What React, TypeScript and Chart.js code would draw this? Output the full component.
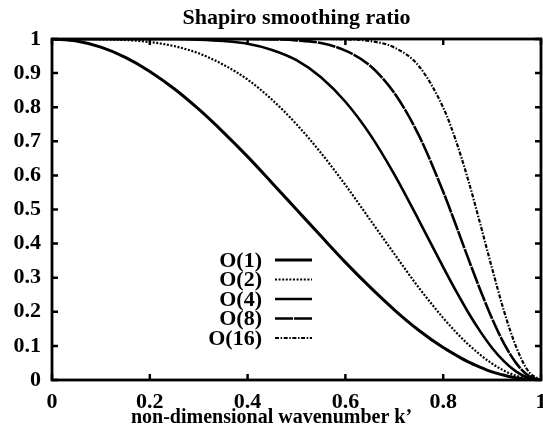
import { useEffect, useRef } from 'react';
import { Chart, registerables } from 'chart.js';

Chart.register(...registerables);

// Non-dimensional wavenumber k'
const wavenumber = [
  0, 0.05, 0.1, 0.15, 0.2, 0.25, 0.3, 0.35, 0.4, 0.45, 0.5, 0.55, 0.6, 0.65, 0.7, 0.75, 0.8,
  0.825, 0.85, 0.875, 0.9, 0.925, 0.95, 0.975, 1,
];

// Smoothing ratio for each filter order
const order1 = [
  1, 0.994, 0.976, 0.946, 0.905, 0.854, 0.794, 0.727, 0.655, 0.578, 0.5, 0.422, 0.345, 0.273,
  0.206, 0.146, 0.095, 0.074, 0.054, 0.038, 0.024, 0.014, 0.006, 0.002, 0,
];
const order2 = [
  1, 1, 0.999, 0.997, 0.991, 0.979, 0.958, 0.925, 0.881, 0.822, 0.75, 0.666, 0.572, 0.471,
  0.37, 0.271, 0.182, 0.142, 0.106, 0.075, 0.048, 0.027, 0.012, 0.003, 0,
];
const order4 = [
  1, 1, 1, 1, 1, 1, 0.998, 0.994, 0.986, 0.968, 0.938, 0.888, 0.816, 0.721, 0.603, 0.469,
  0.331, 0.264, 0.201, 0.144, 0.094, 0.054, 0.024, 0.006, 0,
];
const order8 = [
  1, 1, 1, 1, 1, 1, 1, 1, 1, 0.999, 0.996, 0.988, 0.966, 0.922, 0.842, 0.718, 0.552, 0.458,
  0.361, 0.267, 0.18, 0.105, 0.048, 0.012, 0,
];
const order16 = [
  1, 1, 1, 1, 1, 1, 1, 1, 1, 1, 1, 1, 0.999, 0.994, 0.975, 0.921, 0.799, 0.706, 0.592, 0.462,
  0.327, 0.199, 0.094, 0.024, 0,
];

const seriesLabels = ['O(1)', 'O(2)', 'O(4)', 'O(8)', 'O(16)'];
const xTickLabels = ['0', '0.2', '0.4', '0.6', '0.8', '1'];
const yTickLabels = ['0', '0.1', '0.2', '0.3', '0.4', '0.5', '0.6', '0.7', '0.8', '0.9', '1'];
const xCaption = 'non-dimensional wavenumber k’';

const SERIF = '"Liberation Serif", "Times New Roman", serif';

const lineStyles = [
  { width: 3, dash: [] as number[] },
  { width: 2.2, dash: [2, 1.6] },
  { width: 2.6, dash: [] as number[] },
  { width: 2.6, dash: [18, 1] },
  { width: 2.2, dash: [4, 1.6, 1.5, 1.6] },
];

// Frame around the plot area with inward tick marks on all four sides
const framePlugin = {
  id: 'frame',
  afterDatasetsDraw(chart: any) {
    const { ctx, chartArea: a, scales } = chart;
    ctx.save();
    ctx.strokeStyle = '#000';
    ctx.lineWidth = 2.8;
    ctx.setLineDash([]);
    ctx.strokeRect(a.left, a.top, a.right - a.left, a.bottom - a.top);
    ctx.lineWidth = 2.5;
    const tl = 6;
    scales.x.ticks.forEach((t: any) => {
      const px = scales.x.getPixelForValue(t.value);
      ctx.beginPath();
      ctx.moveTo(px, a.bottom);
      ctx.lineTo(px, a.bottom - tl);
      ctx.moveTo(px, a.top);
      ctx.lineTo(px, a.top + tl);
      ctx.stroke();
    });
    scales.y.ticks.forEach((t: any) => {
      const py = scales.y.getPixelForValue(t.value);
      ctx.beginPath();
      ctx.moveTo(a.left, py);
      ctx.lineTo(a.left + tl, py);
      ctx.moveTo(a.right, py);
      ctx.lineTo(a.right - tl, py);
      ctx.stroke();
    });
    ctx.restore();
  },
};

// x-axis caption, centred on the full canvas width below the tick labels
const captionPlugin = {
  id: 'caption',
  afterDraw(chart: any) {
    const { ctx } = chart;
    ctx.save();
    ctx.font = `bold 20px ${SERIF}`;
    ctx.fillStyle = '#000';
    ctx.textAlign = 'center';
    ctx.textBaseline = 'alphabetic';
    ctx.fillText(xCaption, chart.width / 2, 423);
    ctx.restore();
  },
};

// Key drawn inside the plot: right-aligned labels with line samples to their right
const keyPlugin = {
  id: 'key',
  afterDatasetsDraw(chart: any) {
    const { ctx } = chart;
    const textRight = 262;
    const sampleStart = 275;
    const sampleEnd = 312;
    const firstRow = 260;
    const rowStep = 19.5;
    ctx.save();
    ctx.font = `bold 22px ${SERIF}`;
    ctx.fillStyle = '#000';
    ctx.textAlign = 'right';
    ctx.textBaseline = 'middle';
    chart.data.datasets.forEach((ds: any, i: number) => {
      const y = firstRow + i * rowStep;
      ctx.fillText(ds.label, textRight, y + 1);
      ctx.beginPath();
      ctx.strokeStyle = '#000';
      ctx.lineWidth = ds.borderWidth;
      ctx.setLineDash(ds.borderDash || []);
      ctx.moveTo(sampleStart, y);
      ctx.lineTo(sampleEnd, y);
      ctx.stroke();
    });
    ctx.restore();
  },
};

export default function App() {
  const canvasRef = useRef<HTMLCanvasElement | null>(null);

  useEffect(() => {
    document.body.style.margin = '0';
    const canvas = canvasRef.current;
    if (!canvas) return;

    const seriesValues = [order1, order2, order4, order8, order16];
    const datasets = seriesValues.map((vals, i) => ({
      label: seriesLabels[i],
      data: wavenumber.map((k, j) => ({ x: k, y: vals[j] })),
      borderColor: '#000',
      backgroundColor: '#000',
      borderWidth: lineStyles[i].width,
      borderDash: lineStyles[i].dash,
      pointRadius: 0,
      fill: false,
      cubicInterpolationMode: 'monotone' as const,
    }));

    const chart = new Chart(canvas, {
      type: 'line',
      data: { datasets },
      plugins: [framePlugin, keyPlugin, captionPlugin],
      options: {
        animation: false,
        responsive: false,
        events: [],
        layout: { padding: { left: 0, right: 2, top: 0, bottom: 0 } },
        plugins: {
          legend: { display: false },
          tooltip: { enabled: false },
          title: {
            display: true,
            text: 'Shapiro smoothing ratio',
            color: '#000',
            fullSize: false,
            font: { family: SERIF, size: 22, weight: 'bold' },
            padding: { top: 5, bottom: 7.6 },
          },
        },
        scales: {
          x: {
            type: 'linear',
            min: 0,
            max: 1,
            grid: { display: false, drawTicks: false },
            border: { display: false },
            ticks: {
              stepSize: 0.2,
              color: '#000',
              padding: 9,
              maxRotation: 0,
              font: { family: SERIF, size: 22, weight: 'bold' },
              callback: (_v: any, i: number) => xTickLabels[i],
            },
            afterFit: (scale: any) => {
              scale.height = 50;
              scale.paddingLeft = 0;
              scale.paddingRight = 0;
            },
          },
          y: {
            type: 'linear',
            min: 0,
            max: 1,
            grid: { display: false, drawTicks: false },
            border: { display: false },
            ticks: {
              stepSize: 0.1,
              color: '#000',
              padding: 11,
              font: { family: SERIF, size: 22, weight: 'bold' },
              callback: (_v: any, i: number) => yTickLabels[i],
            },
            afterFit: (scale: any) => {
              scale.width = 52;
              scale.paddingTop = 0;
              scale.paddingBottom = 0;
            },
          },
        },
      },
    });

    return () => chart.destroy();
  }, []);

  return (
    <div style={{ width: 543, height: 430 }}>
      <canvas ref={canvasRef} width={543} height={430} style={{ display: 'block' }} />
    </div>
  );
}
